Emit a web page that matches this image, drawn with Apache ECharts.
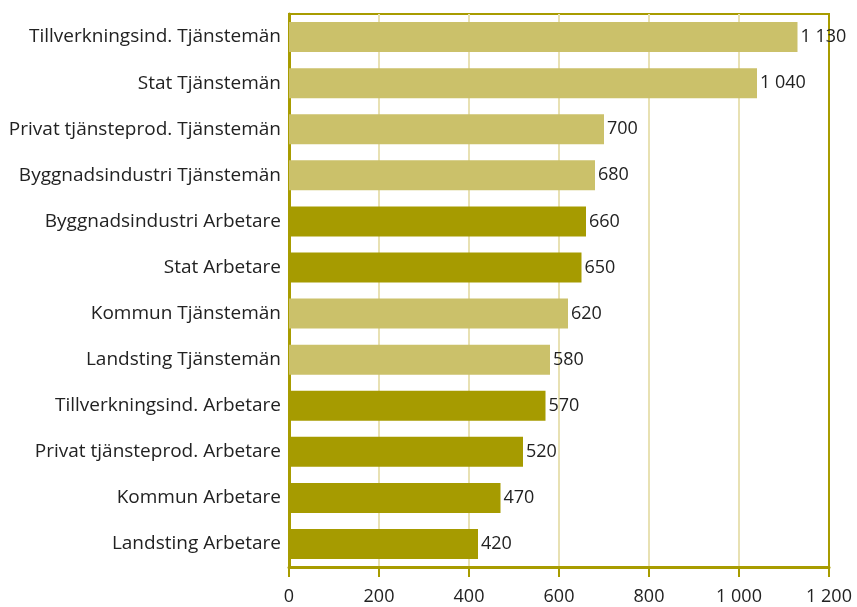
<!DOCTYPE html>
<html>
<head>
<meta charset="utf-8">
<script src="https://cdn.jsdelivr.net/npm/echarts@6/dist/echarts.min.js"></script>
<style>
    html, body {margin:0;padding:0;background:#fff;}
    #chart {width:857px;height:607px;}
</style>
</head>
<body>
<div id="chart"></div>
<script>
    var categories = [
        'Tillverkningsind. Tjänstemän',
        'Stat Tjänstemän',
        'Privat tjänsteprod. Tjänstemän',
        'Byggnadsindustri Tjänstemän',
        'Byggnadsindustri Arbetare',
        'Stat Arbetare',
        'Kommun Tjänstemän',
        'Landsting Tjänstemän',
        'Tillverkningsind. Arbetare',
        'Privat tjänsteprod. Arbetare',
        'Kommun Arbetare',
        'Landsting Arbetare'
    ];
    var values = [1130, 1040, 700, 680, 660, 650, 620, 580, 570, 520, 470, 420];

    var lightColor = '#cbc16a';
    var darkColor = '#a69b00';
    var frameColor = '#a89c00';

    // tusental med mellanslag, t.ex. 1 130
    function fmt(v) {
        return String(v).replace(/\B(?=(\d{3})+(?!\d))/g, ' ');
    }

    var chart = echarts.init(document.getElementById('chart'));
    var option = {
        animation: false,
        textStyle: {fontFamily: 'Open Sans'},
        grid: {
            left: 289, right: 28, top: 14, bottom: 40,
            show: true, borderColor: frameColor, borderWidth: 2
        },
        xAxis: {
            type: 'value',
            min: 0, max: 1200, interval: 200,
            axisLine: {show: true, lineStyle: {color: frameColor, width: 3}},
            axisTick: {show: true, length: 10, lineStyle: {color: frameColor, width: 2}},
            axisLabel: {
                margin: 21, fontSize: 18, color: '#222',
                formatter: function (v) { return fmt(v); }
            },
            splitLine: {
                show: true, showMinLine: false, showMaxLine: false,
                lineStyle: {color: '#e8e1b3', width: 2}
            }
        },
        yAxis: {
            type: 'category',
            inverse: true,
            data: categories,
            axisLine: {show: true, lineStyle: {color: frameColor, width: 3}},
            axisTick: {show: false},
            axisLabel: {margin: 8, fontSize: 19, color: '#222'}
        },
        series: [{
            type: 'bar',
            barWidth: 30,
            data: values.map(function (v, i) {
                return {
                    value: v,
                    itemStyle: {color: categories[i].indexOf('Tjänstemän') >= 0 ? lightColor : darkColor}
                };
            }),
            label: {
                show: true, position: 'right', distance: 3,
                fontSize: 18, color: '#222',
                formatter: function (p) { return fmt(p.value); }
            }
        }]
    };
    chart.setOption(option);
    window.onresize = function () {
        chart.resize();
    };
</script>
</body>
</html>
